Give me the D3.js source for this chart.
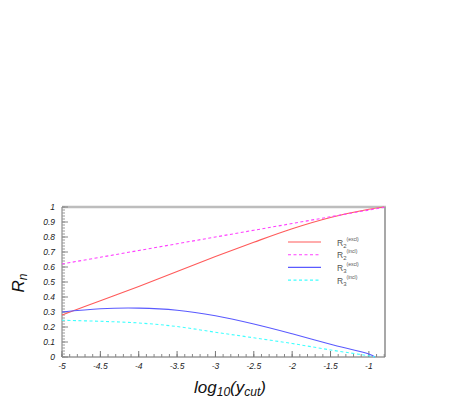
<!DOCTYPE html>
<html>
<head>
<meta charset="utf-8">
<script src="https://cdn.jsdelivr.net/npm/d3@7"></script>
<style>
  body { margin: 0; background: #fff; }
  text { font-family: "Liberation Sans", Arial, sans-serif; }
</style>
</head>
<body>
<svg id="chart" width="463" height="409"></svg>
<script>
// log10(ycut) sample points
const log_ycut = [-5, -4.5, -4, -3.5, -3, -2.5, -2, -1.5, -1, -0.8];
const r2_excl = [0.28, 0.375, 0.47, 0.57, 0.67, 0.765, 0.855, 0.93, 0.985, 1.0];
const r2_incl = [0.62, 0.665, 0.71, 0.755, 0.80, 0.845, 0.89, 0.935, 0.98, 0.998];
const r3_x = [-5, -4.5, -4, -3.5, -3, -2.5, -2, -1.5, -1, -0.92];
const r3_excl = [0.30, 0.322, 0.326, 0.312, 0.275, 0.22, 0.155, 0.085, 0.02, 0.0];
const r3_incl = [0.245, 0.238, 0.227, 0.203, 0.165, 0.128, 0.09, 0.047, 0.008, 0.0];

const x_ticks = [-5, -4.5, -4, -3.5, -3, -2.5, -2, -1.5, -1];
const y_ticks = [0, 0.1, 0.2, 0.3, 0.4, 0.5, 0.6, 0.7, 0.8, 0.9, 1];

const series = [
  { name: "R", sub: "2", sup: "(excl)", xs: log_ycut, ys: r2_excl, color: "#ff5a5a", dash: null },
  { name: "R", sub: "2", sup: "(incl)", xs: log_ycut, ys: r2_incl, color: "#ff40ff", dash: "3,2.5" },
  { name: "R", sub: "3", sup: "(excl)", xs: r3_x, ys: r3_excl, color: "#5a5aff", dash: null },
  { name: "R", sub: "3", sup: "(incl)", xs: r3_x, ys: r3_incl, color: "#40ffff", dash: "3,2.5" },
];

const plot_left = 62, plot_right = 385, plot_top = 207, plot_bottom = 357;

const svg = d3.select("#chart");
const x = d3.scaleLinear().domain([-5, -0.79]).range([plot_left, plot_right]);
const y = d3.scaleLinear().domain([0, 1]).range([plot_bottom, plot_top]);

// frame: heavier grey on top and right
svg.append("line").attr("x1", plot_left).attr("x2", plot_right + 1)
  .attr("y1", plot_top).attr("y2", plot_top)
  .attr("stroke", "#bdbdbd").attr("stroke-width", 2.5);
svg.append("line").attr("x1", plot_right).attr("x2", plot_right)
  .attr("y1", plot_top).attr("y2", plot_bottom)
  .attr("stroke", "#a8a8a8").attr("stroke-width", 2);

// axes
const x_minor = d3.range(-5, -0.79, 0.1);
const y_minor = d3.range(0, 1.001, 0.02);

const gx = svg.append("g").attr("transform", `translate(0,${plot_bottom})`);
gx.append("line").attr("x1", plot_left).attr("x2", plot_right)
  .attr("stroke", "#666").attr("stroke-width", 1);
gx.selectAll("line.minor").data(x_minor).join("line").attr("class", "minor")
  .attr("x1", (d) => x(d)).attr("x2", (d) => x(d))
  .attr("y1", 0).attr("y2", -3).attr("stroke", "#888");
gx.selectAll("line.major").data(x_ticks).join("line").attr("class", "major")
  .attr("x1", (d) => x(d)).attr("x2", (d) => x(d))
  .attr("y1", 0).attr("y2", -6).attr("stroke", "#777");
gx.selectAll("text").data(x_ticks).join("text")
  .attr("x", (d) => x(d)).attr("y", 12)
  .attr("text-anchor", "middle").attr("font-size", 8.5)
  .attr("font-style", "italic").attr("fill", "#222")
  .text((d) => d);

const gy = svg.append("g").attr("transform", `translate(${plot_left},0)`);
gy.append("line").attr("y1", plot_top).attr("y2", plot_bottom)
  .attr("stroke", "#777").attr("stroke-width", 1);
gy.selectAll("line.minor").data(y_minor).join("line").attr("class", "minor")
  .attr("y1", (d) => y(d)).attr("y2", (d) => y(d))
  .attr("x1", 0).attr("x2", 3).attr("stroke", "#999");
gy.selectAll("line.major").data(y_ticks).join("line").attr("class", "major")
  .attr("y1", (d) => y(d)).attr("y2", (d) => y(d))
  .attr("x1", 0).attr("x2", 6).attr("stroke", "#888");
gy.selectAll("text").data(y_ticks).join("text")
  .attr("x", -7).attr("y", (d) => y(d) + 3)
  .attr("text-anchor", "end").attr("font-size", 8.5)
  .attr("font-style", "italic").attr("fill", "#222")
  .text((d) => d);

// curves
const line = d3.line().curve(d3.curveCatmullRom);
svg.append("g").selectAll("path").data(series).join("path")
  .attr("d", (s) => line(s.xs.map((v, i) => [x(v), y(s.ys[i])])))
  .attr("fill", "none")
  .attr("stroke", (s) => s.color)
  .attr("stroke-width", 1.1)
  .attr("stroke-dasharray", (s) => s.dash);

// legend
const legend = svg.append("g").selectAll("g").data(series).join("g")
  .attr("transform", (s, i) => `translate(288,${242 + i * 12.7})`);
legend.append("line").attr("x1", 0).attr("x2", 33)
  .attr("stroke", (s) => s.color).attr("stroke-width", 1.1)
  .attr("stroke-dasharray", (s) => s.dash);
const lt = legend.append("text").attr("x", 49).attr("y", 3.5)
  .attr("font-size", 8.5).attr("fill", "#555");
lt.append("tspan").text((s) => s.name);
lt.append("tspan").attr("dy", 2).attr("font-size", 6).text((s) => s.sub);
lt.append("tspan").attr("dy", -7).attr("font-size", 5).text((s) => s.sup);

// axis titles
const xt = svg.append("text").attr("x", 230).attr("y", 393)
  .attr("text-anchor", "middle").attr("font-size", 17)
  .attr("font-style", "italic").attr("fill", "#111");
xt.append("tspan").text("log");
xt.append("tspan").attr("dy", 3).attr("font-size", 12).text("10");
xt.append("tspan").attr("dy", -3).text("(y");
xt.append("tspan").attr("dy", 3).attr("font-size", 12).text("cut");
xt.append("tspan").attr("dy", -3).text(")");

const yt = svg.append("text").attr("transform", "translate(24,283) rotate(-90)")
  .attr("text-anchor", "middle").attr("font-size", 17)
  .attr("font-style", "italic").attr("fill", "#111");
yt.append("tspan").text("R");
yt.append("tspan").attr("dy", 3).attr("font-size", 12).text("n");
</script>
</body>
</html>
